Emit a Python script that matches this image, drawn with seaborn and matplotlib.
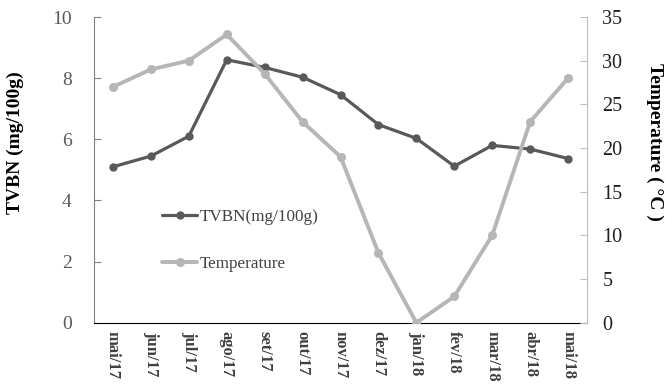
import matplotlib
matplotlib.use("Agg")
import matplotlib.pyplot as plt
import seaborn as sns
import pandas as pd
import numpy as np

months = ["mai/17", "jun/17", "jul/17", "ago/17", "set/17", "out/17", "nov/17",
          "dez/17", "jan/18", "fev/18", "mar/18", "abr/18", "mai/18"]
tvbn = [5.1, 5.45, 6.1, 8.6, 8.35, 8.03, 7.46, 6.48, 6.03, 5.12, 5.8, 5.68, 5.37]
temperature = [27, 29, 30, 33, 28.5, 23, 19, 8, 0, 3, 10, 23, 28]
left_ticks = [0, 2, 4, 6, 8, 10]
right_ticks = [0, 5, 10, 15, 20, 25, 30, 35]

sns.set_style("white")
plt.rcParams['font.family'] = ['Liberation Serif', 'DejaVu Serif']

df = pd.DataFrame({"pos": np.arange(len(months)), "month": months,
                   "TVBN": tvbn, "Temp": temperature})

fig = plt.figure(figsize=(6.65, 3.84), dpi=100)
ax = fig.add_axes([94/665, 1-322.7/384, (587-94)/665, (322.7-17)/384])
ax2 = ax.twinx()

dark = "#595959"
light = "#b6b6b6"

sns.lineplot(data=df, x="pos", y="TVBN", ax=ax, color=dark, lw=2.3,
             marker="o", markersize=6, markeredgewidth=0, label="TVBN(mg/100g)", legend=False)
sns.lineplot(data=df, x="pos", y="Temp", ax=ax2, color=light, lw=2.8,
             marker="o", markersize=6.5, markeredgewidth=0, label="Temperature", legend=False)

ax.set_xlim(-0.5, len(months) - 0.5)
ax.set_ylim(0, 10)
ax2.set_ylim(0, 35)
ax.set_yticks(left_ticks)
ax2.set_yticks(right_ticks)

ax.set_xticks(np.arange(len(months)))
ax.set_xticklabels(months, rotation=270, fontsize=12, fontweight="bold", color="#404040")
ax.set_xticks(np.arange(len(months) + 1) - 0.5, minor=True)
ax.tick_params(axis="x", which="major", length=0, pad=6)
ax.tick_params(axis="x", which="minor", length=4, direction="in", color="black", width=1)

ax.tick_params(axis="y", labelsize=14, labelcolor="#595959", length=5, direction="in",
               color="#808080", pad=16)
ax2.tick_params(axis="y", labelsize=14.5, labelcolor="#202020", length=5, direction="in",
                color="#bfbfbf", pad=11)

for a in (ax, ax2):
    a.spines["top"].set_visible(False)
    a.set_xlabel("")
ax.spines["left"].set_color("#808080")
ax.spines["bottom"].set_color("black")
ax.spines["right"].set_visible(False)
ax2.spines["left"].set_visible(False)
ax2.spines["bottom"].set_visible(False)
ax2.spines["right"].set_color("#bfbfbf")

ax.set_ylabel("TVBN (mg/100g)", fontsize=14, fontweight="bold", color="black")
ax.yaxis.set_label_coords(-(94 - 15) / 493, 0.59)
ax2.set_ylabel("Temperature ( °C )", fontsize=14, fontweight="bold", color="black",
               rotation=270)
ax2.yaxis.set_label_coords(1 + (655 - 587) / 493, 0.59)
ax.yaxis.label.set_va("center")
ax2.yaxis.label.set_va("center")

h1, l1 = ax.get_legend_handles_labels()
h2, l2 = ax2.get_legend_handles_labels()
leg = ax2.legend(h1 + h2, l1 + l2, loc="upper left", bbox_to_anchor=(147/665, 1-194/384),
                 bbox_transform=fig.transFigure, frameon=False, fontsize=12.3,
                 handlelength=2.05, handletextpad=0.15, labelspacing=1.8)
for t in leg.get_texts():
    t.set_color("#404040")

fig.savefig("out.png", dpi=100)
